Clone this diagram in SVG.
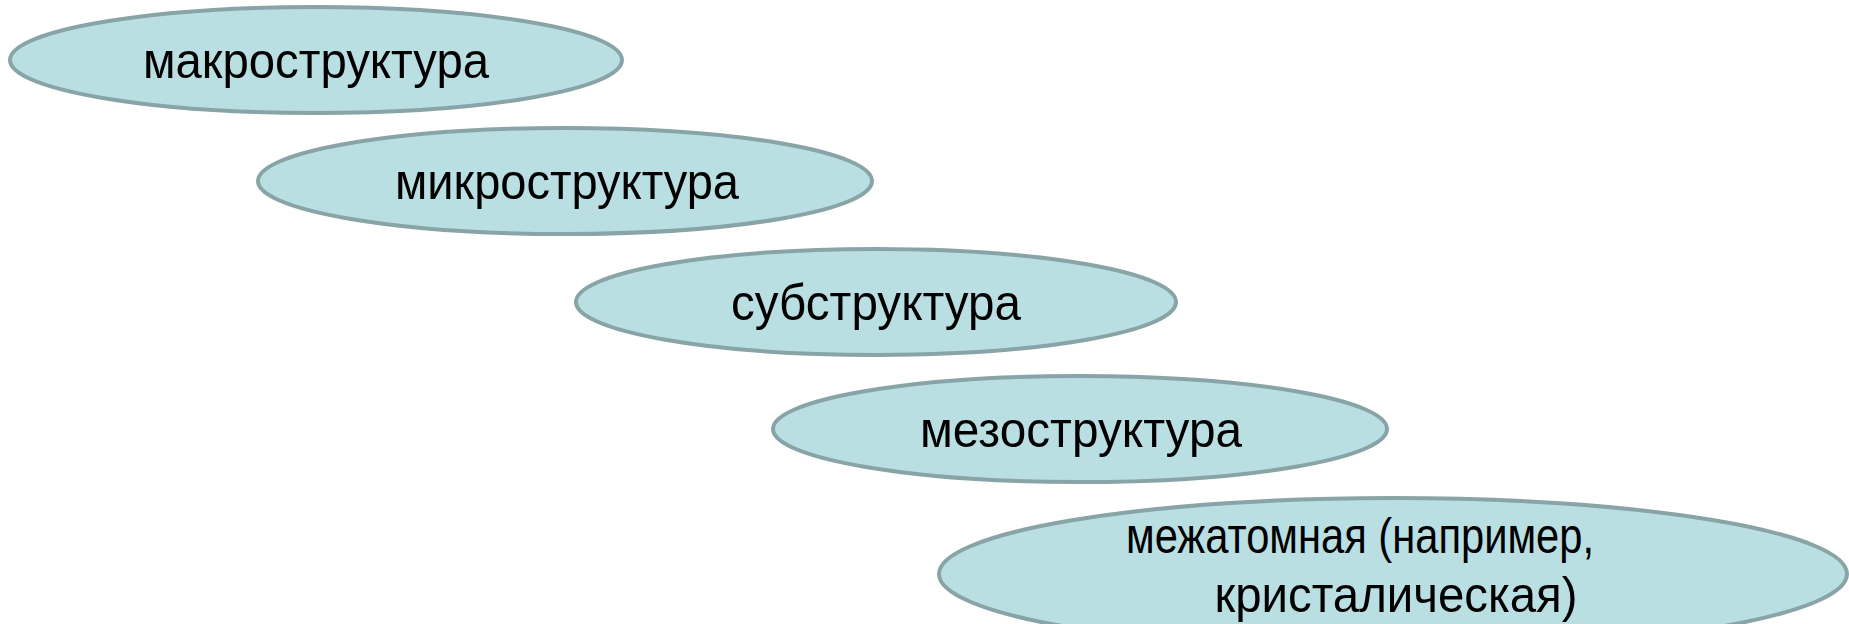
<svg xmlns="http://www.w3.org/2000/svg" width="1849" height="624" viewBox="0 0 1849 624">
<style>
.n{fill:#BADFE3;stroke:#88A4A7;stroke-width:4}
.t{font-family:"Liberation Sans",Arial,sans-serif;font-size:50px;fill:#000;text-anchor:middle}
</style>
<rect width="1849" height="624" fill="#fff"/>
<g id="connectors"></g>
<g id="n1"><ellipse class="n" cx="316" cy="60" rx="306" ry="53"/><text class="t" x="316" y="78" textLength="346" lengthAdjust="spacingAndGlyphs">макроструктура</text></g>
<g id="n2"><ellipse class="n" cx="565" cy="181" rx="307" ry="53"/><text class="t" x="567" y="199" textLength="344" lengthAdjust="spacingAndGlyphs">микроструктура</text></g>
<g id="n3"><ellipse class="n" cx="876" cy="302" rx="300" ry="53"/><text class="t" x="876" y="320" textLength="290" lengthAdjust="spacingAndGlyphs">субструктура</text></g>
<g id="n4"><ellipse class="n" cx="1080" cy="429" rx="307" ry="53"/><text class="t" x="1081" y="447" textLength="322" lengthAdjust="spacingAndGlyphs">мезоструктура</text></g>
<g id="n5"><ellipse class="n" cx="1393" cy="574" rx="454" ry="76"/><text class="t" x="1360" y="553" textLength="468" lengthAdjust="spacingAndGlyphs">межатомная (например,</text><text class="t" x="1396" y="612" textLength="363" lengthAdjust="spacingAndGlyphs">кристалическая)</text></g>
</svg>
